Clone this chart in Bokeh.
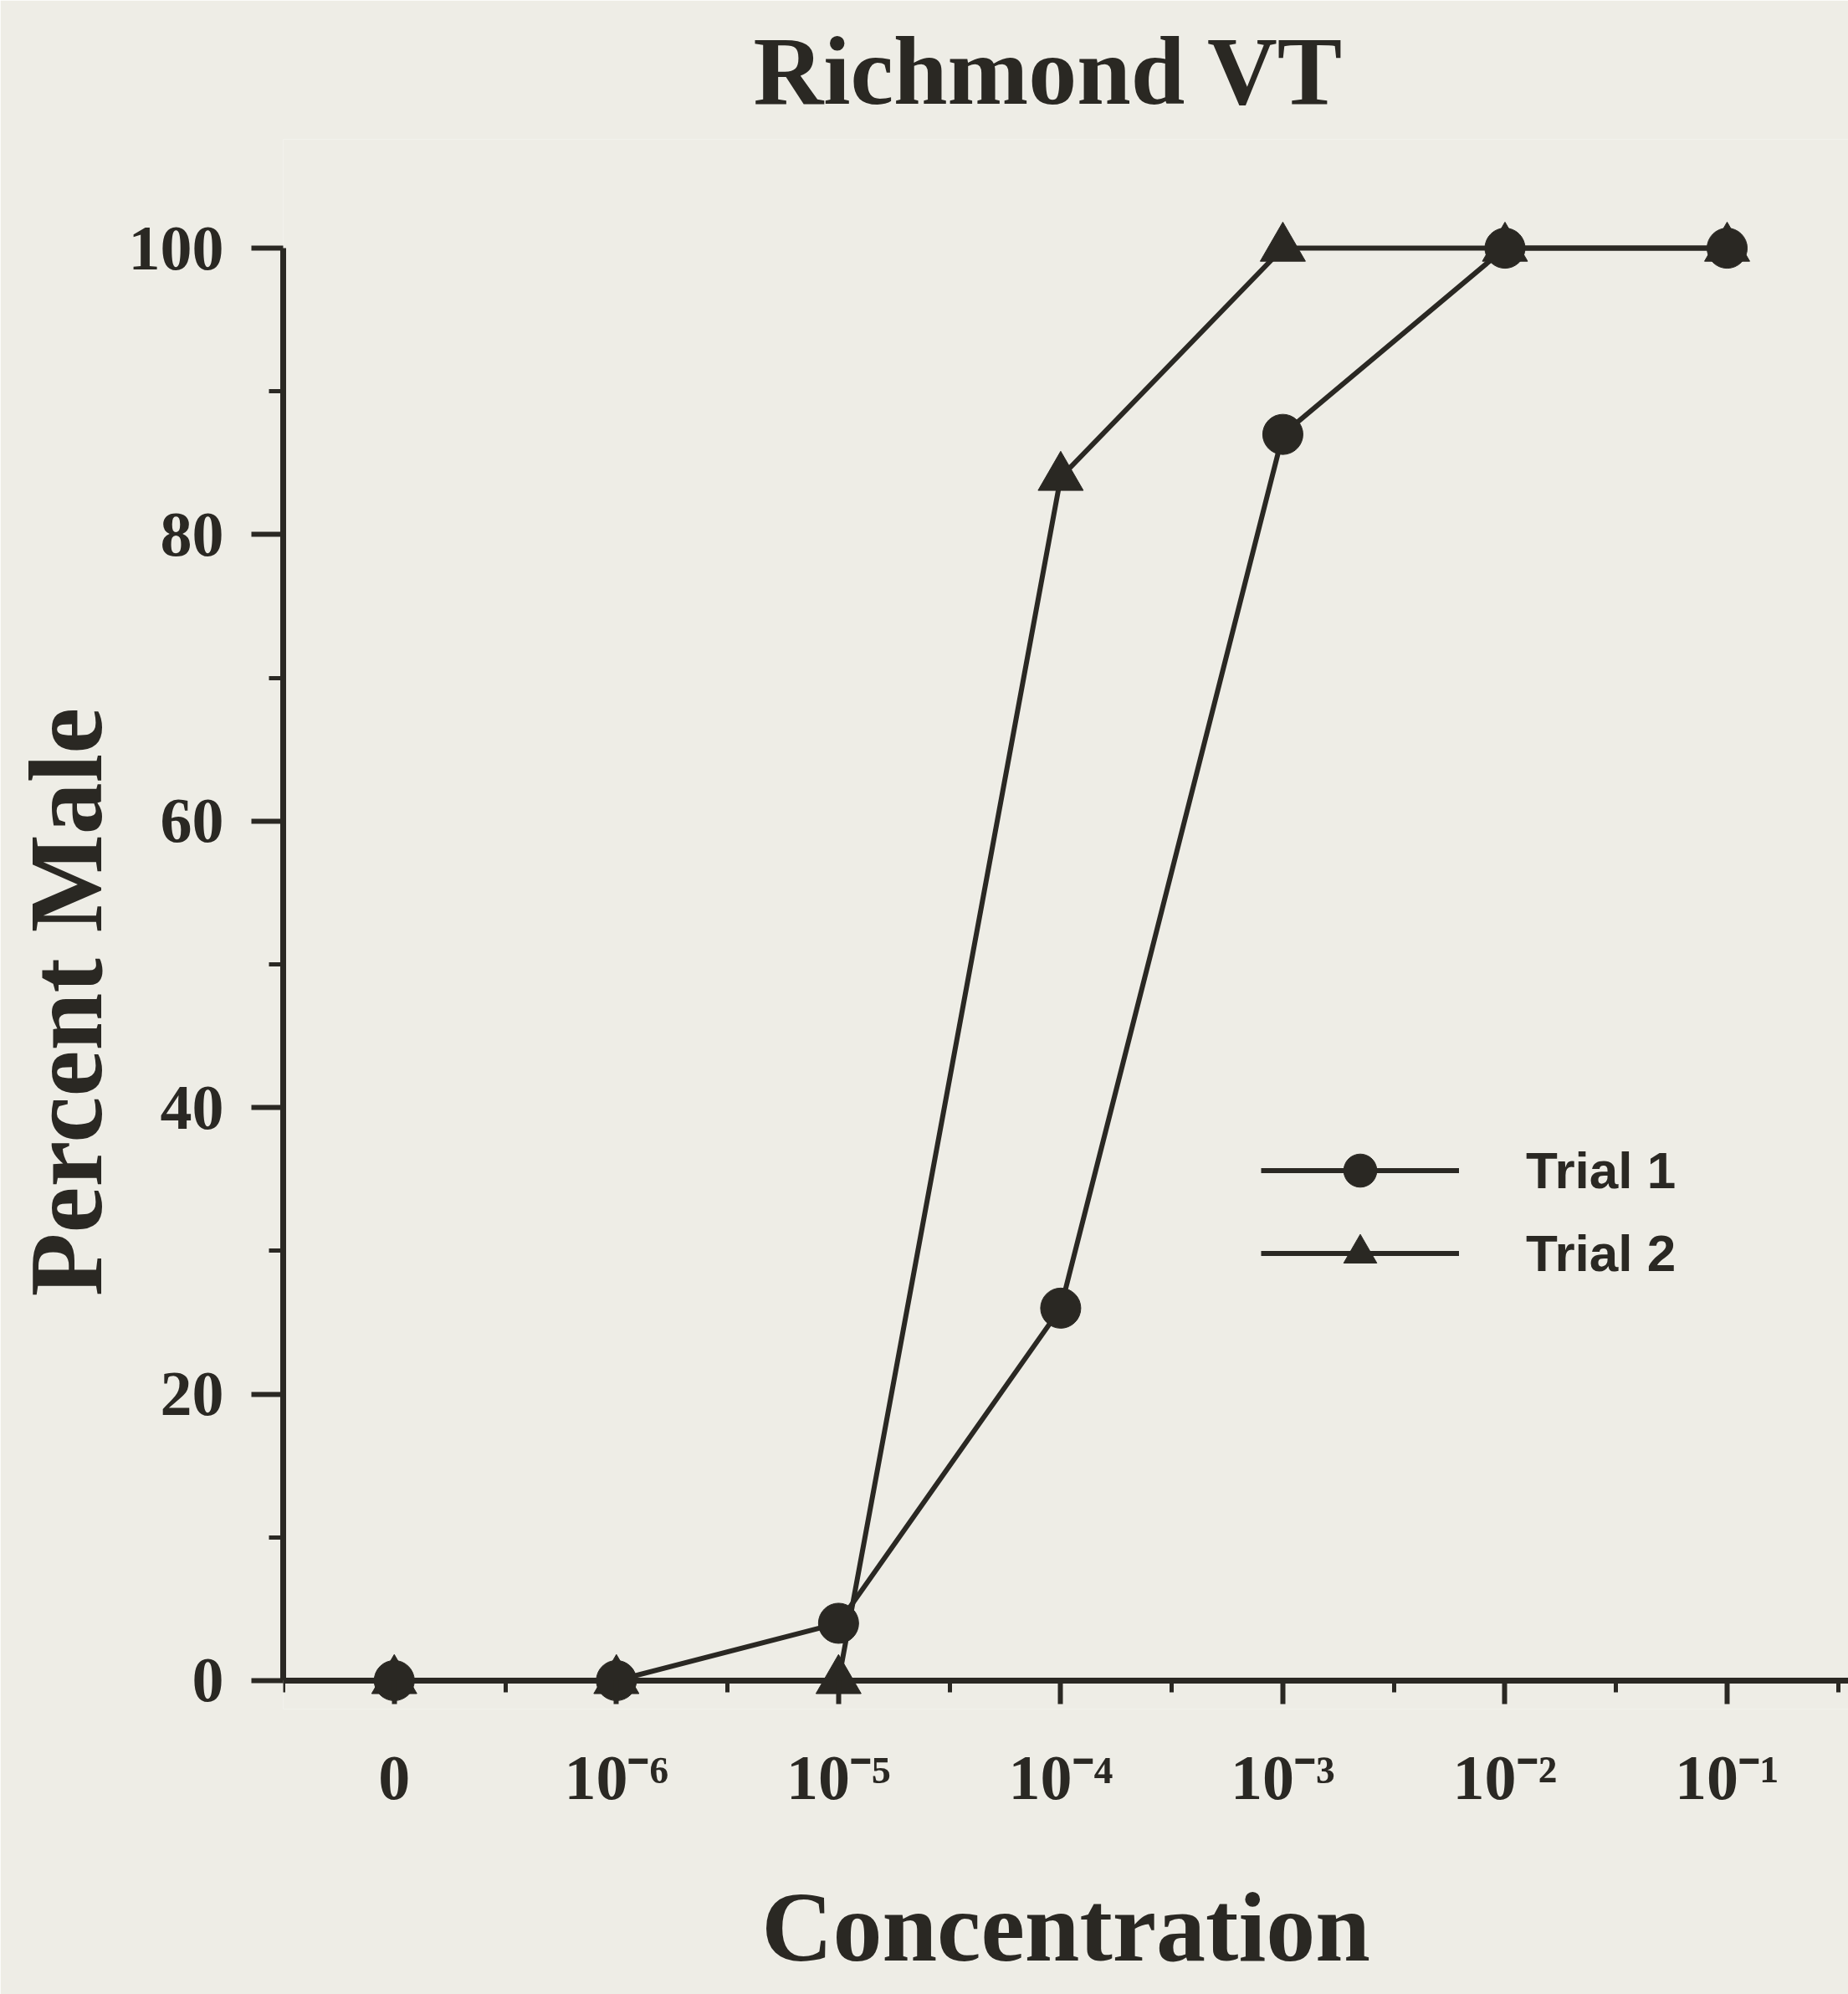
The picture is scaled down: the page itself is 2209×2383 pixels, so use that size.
from bokeh.plotting import figure
from bokeh.models import FixedTicker, Legend, LegendItem, LinearAxis
from bokeh.embed import file_html
from bokeh.resources import INLINE

# ---- data ----
concentrations = ["0", "10\u207b\u2076", "10\u207b\u2075", "10\u207b\u2074",
                  "10\u207b\u00b3", "10\u207b\u00b2", "10\u207b\u00b9"]
trial1 = [0, 0, 4, 26, 87, 100, 100]
trial2 = [0, 0, 0, 84, 100, 100, 100]
y_ticks = [0, 20, 40, 60, 80, 100]
y_minor = [10, 30, 50, 70, 90]
title_text = "Richmond VT"
x_label = "Concentration"
y_label = "Percent Male"
series_names = ["Trial 1", "Trial 2"]

# ---- style ----
W, H = 2209, 2383
INK = "#2a2823"
BG = "#eeede6"
SERIF = "Liberation Serif"

x = list(range(len(concentrations)))
x_start, x_end = -0.5, 6.546
y_start, y_end = -1.99, 107.6
frame_top, frame_bottom = 166, 2042

p = figure(width=W, height=H, x_range=(x_start, x_end), y_range=(y_start, y_end),
           output_backend="svg", toolbar_location=None, x_axis_location=None,
           min_border_left=338, min_border_right=0,
           min_border_top=frame_top, min_border_bottom=H - frame_bottom)
p.background_fill_color = BG
p.border_fill_color = BG
p.outline_line_color = None
p.xgrid.visible = False
p.ygrid.visible = False

# title
p.title.text = title_text
p.title.text_font = SERIF
p.title.text_font_style = "bold"
p.title.text_font_size = "116px"
p.title.text_color = INK
p.title.align = "left"
p.title.offset = 562
p.title.standoff = 36

# y axis
ya = p.yaxis[0]
ya.ticker = FixedTicker(ticks=y_ticks, minor_ticks=y_minor)
ya.bounds = (0, 100)
ya.axis_line_width = 7
ya.axis_line_color = INK
ya.major_tick_out = 38
ya.major_tick_in = 0
ya.minor_tick_out = 17
ya.minor_tick_in = 0
ya.major_tick_line_width = 6
ya.minor_tick_line_width = 5
ya.major_tick_line_color = INK
ya.minor_tick_line_color = INK
ya.major_label_text_font = SERIF
ya.major_label_text_font_style = "bold"
ya.major_label_text_font_size = "76px"
ya.major_label_text_color = INK
ya.major_label_standoff = 33
ya.axis_label = y_label + "\u00a0" * 6
ya.axis_label_text_font = SERIF
ya.axis_label_text_font_style = "bold"
ya.axis_label_text_font_size = "124px"
ya.axis_label_text_color = INK
ya.axis_label_standoff = 3

x_minor = [i + 0.5 for i in range(-1, len(x))]

# x axis line + ticks, drawn at y = 0
xline = LinearAxis(ticker=FixedTicker(ticks=x, minor_ticks=x_minor), fixed_location=0,
                   axis_line_width=7, axis_line_color=INK,
                   major_tick_out=28, major_tick_in=0, minor_tick_out=14, minor_tick_in=0,
                   major_tick_line_width=6, minor_tick_line_width=5,
                   major_tick_line_color=INK, minor_tick_line_color=INK,
                   major_label_overrides={i: "" for i in x},
                   major_label_text_font_size="0px", major_label_standoff=0)
p.add_layout(xline, "below")

# x tick labels + axis title, below the frame
xlab = LinearAxis(ticker=FixedTicker(ticks=x, minor_ticks=[]),
                  axis_line_color=None, major_tick_line_color=None, minor_tick_line_color=None,
                  major_tick_out=0, major_tick_in=0, minor_tick_out=0, minor_tick_in=0,
                  major_label_overrides={i: lab for i, lab in enumerate(concentrations)},
                  major_label_text_font=SERIF, major_label_text_font_style="bold",
                  major_label_text_font_size="76px", major_label_text_color=INK,
                  major_label_standoff=39,
                  axis_label=x_label, axis_label_text_font=SERIF,
                  axis_label_text_font_style="bold", axis_label_text_font_size="118px",
                  axis_label_text_color=INK, axis_label_standoff=69)
p.add_layout(xlab, "below")

# series
l2 = p.line(x, trial2, line_width=6, line_color=INK)
t2 = p.scatter(x, trial2, marker="triangle", size=54, fill_color=INK, line_color=INK)
l1 = p.line(x, trial1, line_width=6, line_color=INK)
c1 = p.scatter(x, trial1, marker="circle", size=48, fill_color=INK, line_color=INK)

legend = Legend(items=[LegendItem(label=series_names[0], renderers=[l1, c1]),
                       LegendItem(label=series_names[1], renderers=[l2, t2])],
                location=(1169, 495), glyph_width=237, glyph_height=99, label_height=99,
                spacing=0, padding=0, margin=0, label_standoff=80,
                border_line_color=None, background_fill_alpha=0,
                label_text_font="Liberation Sans", label_text_font_style="bold",
                label_text_font_size="62px", label_text_color=INK)
p.add_layout(legend)

open("out.html", "w").write(file_html(p, INLINE))
